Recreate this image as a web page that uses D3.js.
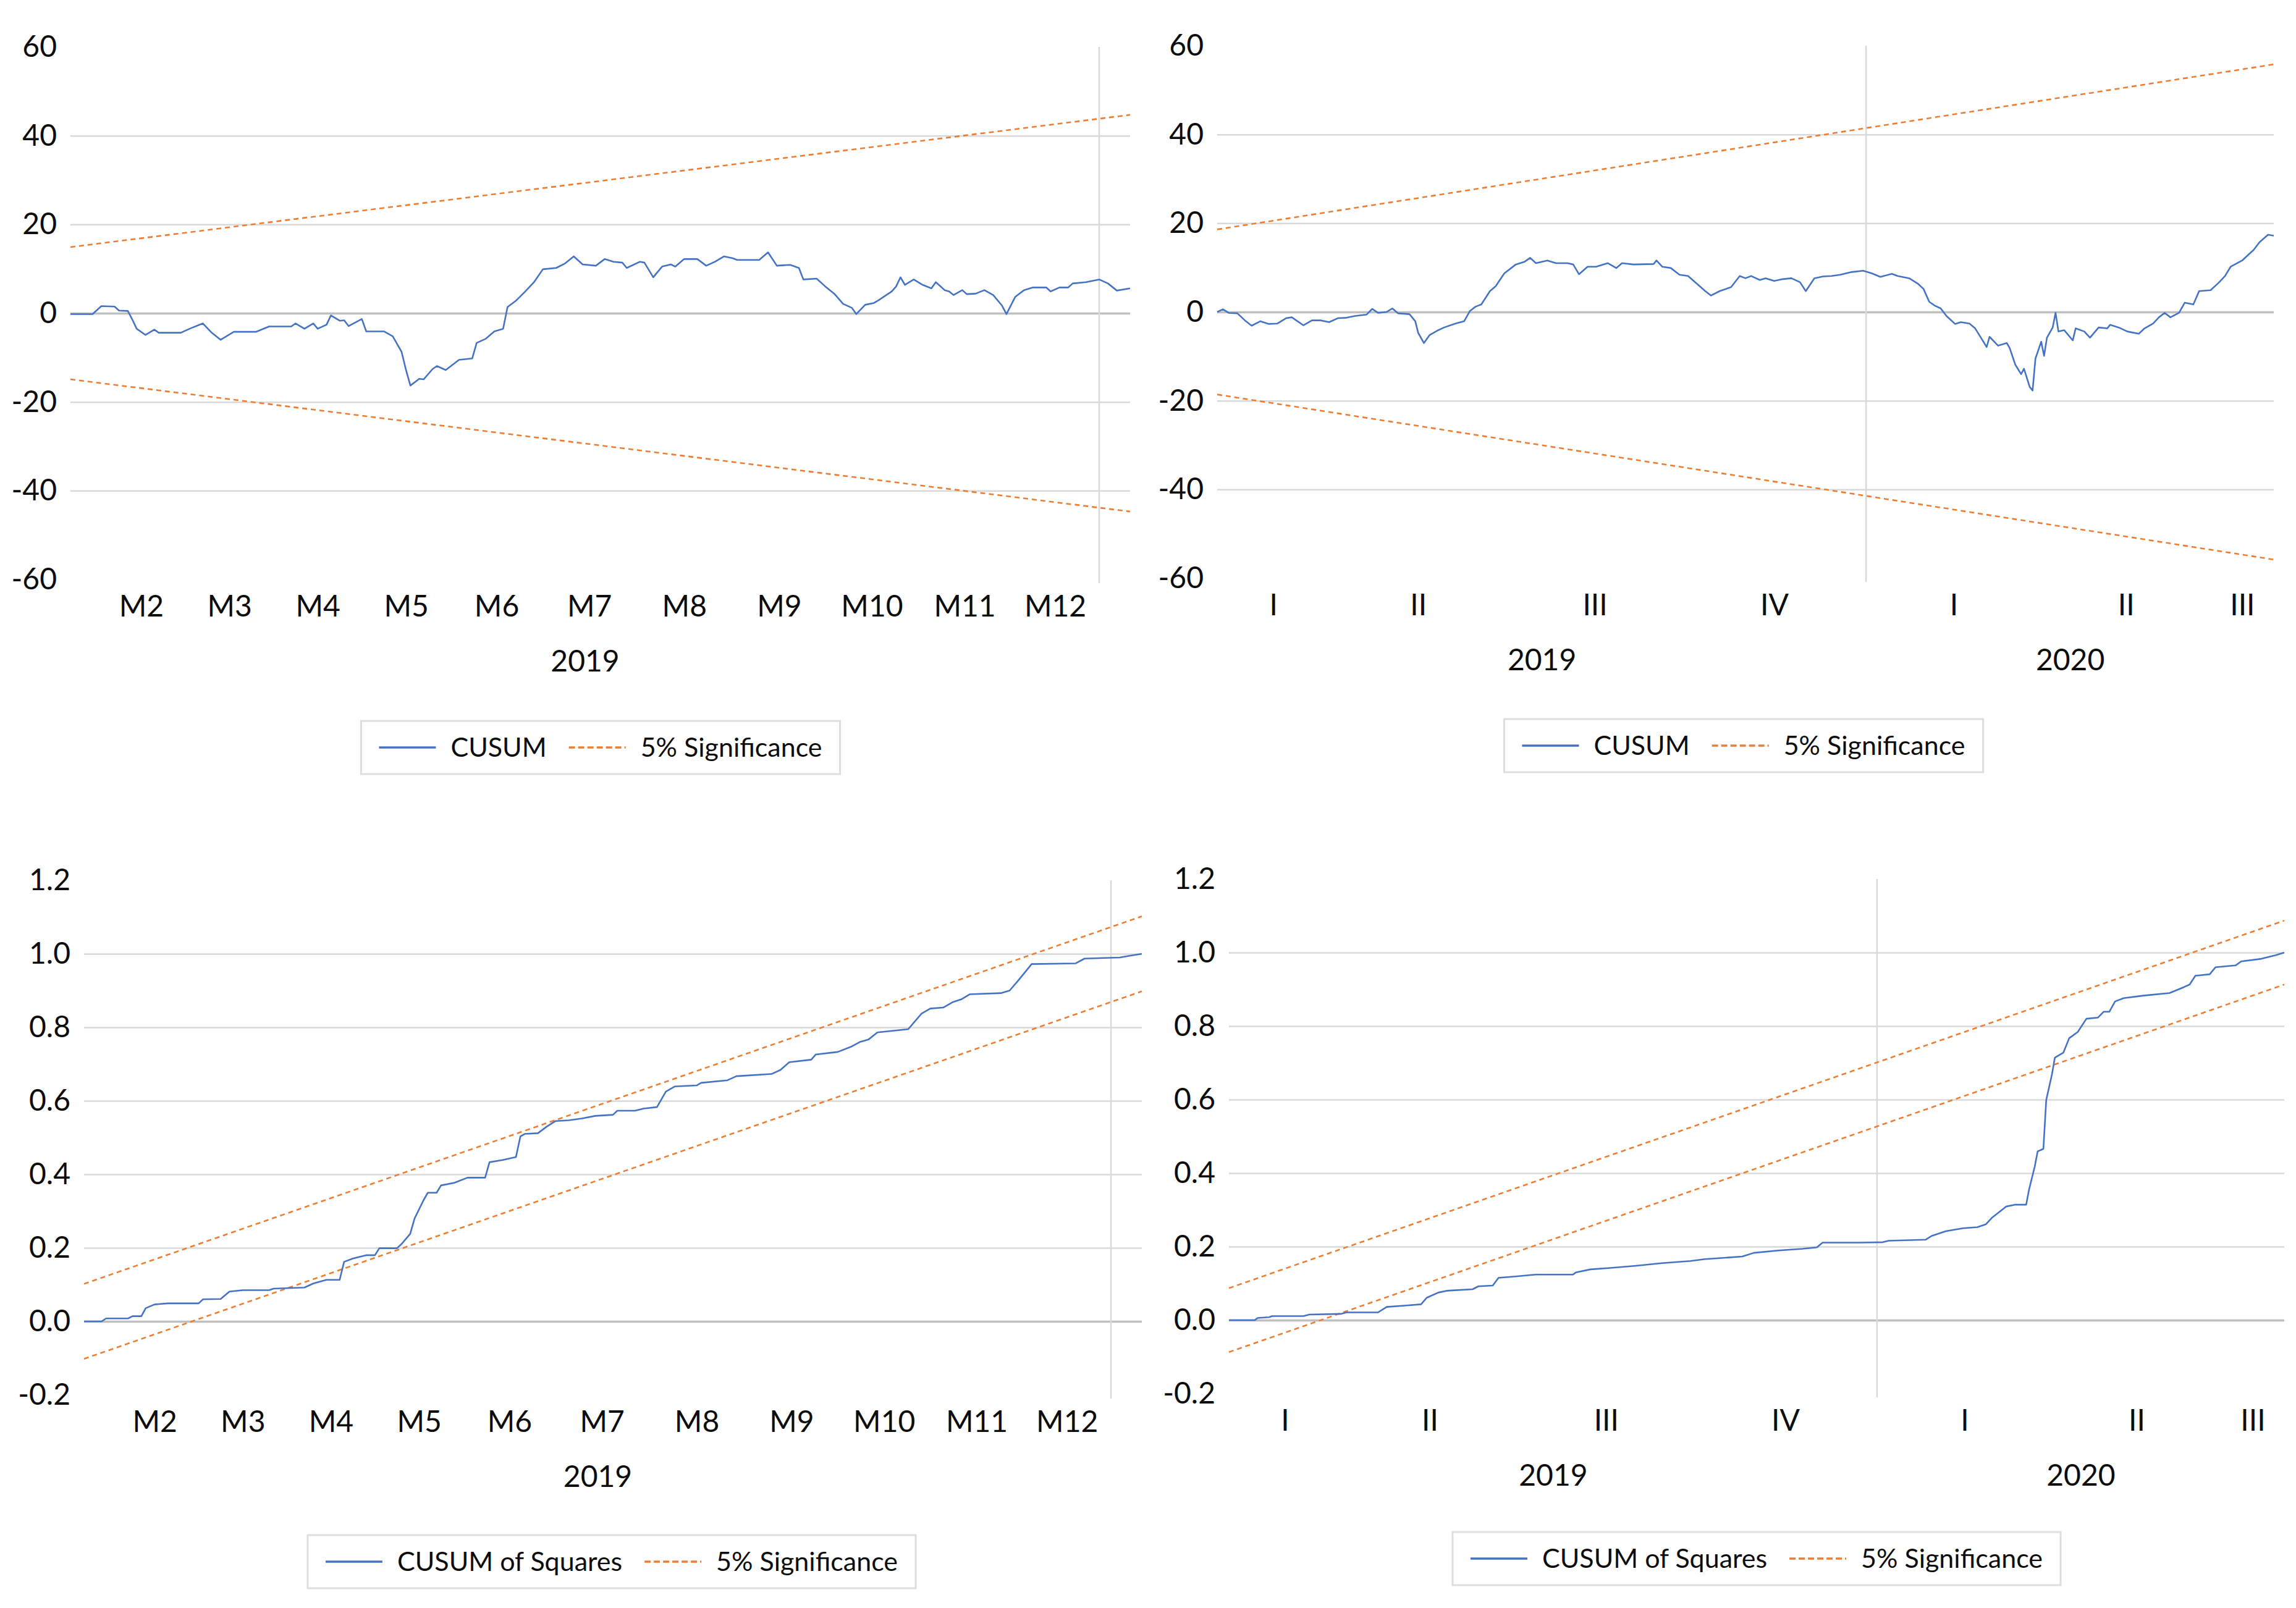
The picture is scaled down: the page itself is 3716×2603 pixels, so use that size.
<!DOCTYPE html>
<html>
<head>
<meta charset="utf-8">
<script src="https://cdn.jsdelivr.net/npm/d3@7"></script>
<style>
body { margin: 0; background: #fff; }
text { font-family: Lato, "Open Sans", sans-serif; fill: #0d0d0d; }
</style>
</head>
<body>
<script>
// category layout (trading-day index of each group's start)
var monthEdges = [0, 6, 26, 46, 66, 86, 107, 128, 150, 171, 192, 213, 233, 240];
var monthLabels = ['', 'M2', 'M3', 'M4', 'M5', 'M6', 'M7', 'M8', 'M9', 'M10', 'M11', 'M12', ''];
var monthYearEdges = [0, 233];
var monthYears = ['2019'];

var quarterEdges = [0, 39, 101, 162, 226, 287, 346, 368];
var quarterLabels = ['I', 'II', 'III', 'IV', 'I', 'II', 'III'];
var quarterYearEdges = [0, 226, 368];
var quarterYears = ['2019', '2020'];

var cusumTicks = [-60, -40, -20, 0, 20, 40, 60];
var sqTicks = [-0.2, 0, 0.2, 0.4, 0.6, 0.8, 1.0, 1.2];

// top left: CUSUM, 2019
var cusumADays = [0,5,7,10,11,13,14,15,17,19,20,25,27,30,32,34,37,42,45,50,51,53,55,56,58,59,61,62,63,66,67,71,73,75,76,77,79,80,82,83,85,88,91,92,94,96,98,99,101,103,105,107,110,112,114,116,119,121,123,125,126,129,130,132,134,136,137,139,142,144,146,148,150,151,156,158,160,163,165,166,169,171,173,175,177,178,180,182,183,186,187,188,189,191,193,195,196,198,199,200,202,203,205,207,209,211,212,214,216,218,221,222,224,226,227,230,233,235,237,240];
var cusumAVals = [-0.2,-0.2,1.6,1.5,0.6,0.5,-1.4,-3.5,-4.9,-3.7,-4.4,-4.4,-3.5,-2.3,-4.4,-6.0,-4.2,-4.2,-3.0,-3.0,-2.3,-3.5,-2.3,-3.5,-2.6,-0.5,-1.7,-1.6,-2.9,-1.3,-4.1,-4.1,-5.2,-8.7,-12.8,-16.3,-14.8,-14.9,-12.6,-11.9,-12.8,-10.5,-10.2,-6.7,-5.8,-4.1,-3.5,1.4,2.9,4.9,7.0,9.9,10.2,11.2,12.8,11.0,10.7,12.2,11.6,11.4,10.2,11.6,11.4,8.1,10.5,11.0,10.5,12.2,12.2,10.7,11.6,12.8,12.4,12.0,12.0,13.7,10.7,10.9,10.2,7.6,7.8,6.0,4.4,2.1,1.2,-0.2,1.9,2.3,2.9,4.9,6.0,8.1,6.4,7.6,6.4,5.6,7.0,5.2,4.9,4.1,5.2,4.3,4.4,5.2,4.1,1.7,-0.2,3.7,5.2,5.8,5.8,4.9,5.8,5.8,6.7,7.0,7.6,6.7,5.1,5.6];
var sigADays = [0, 240];
var sigAUpper = [14.9, 44.7];
var sigALower = [-14.9, -44.7];

// top right: CUSUM, 2019-2020
var cusumBDays = [0,2,4,7,10,12,15,18,21,24,26,28,30,33,36,39,42,45,48,52,54,56,59,61,63,67,69,70,72,74,77,79,83,86,88,90,92,95,97,100,104,107,109,111,115,118,122,124,126,129,132,136,139,141,145,152,153,155,158,161,164,167,170,172,175,179,182,184,186,189,191,194,197,200,203,205,208,211,214,217,221,225,228,231,235,237,241,244,246,248,250,252,254,257,259,262,264,266,268,269,272,275,276,278,280,281,283,284,285,287,288,289,291,292,293,295,298,299,302,304,307,310,311,314,317,321,323,326,328,330,332,335,337,340,342,346,349,351,353,357,359,361,363,366,368];
var cusumBVals = [0,0.6,-0.2,-0.3,-2.1,-3.1,-2.1,-2.7,-2.6,-1.4,-1.2,-2.1,-3.0,-1.9,-1.9,-2.3,-1.4,-1.3,-0.9,-0.6,0.7,-0.2,0,0.8,-0.3,-0.5,-2.1,-4.7,-7.0,-5.2,-4.1,-3.5,-2.6,-2.1,0.2,1.2,1.7,4.7,5.8,8.7,10.7,11.3,12.2,11.0,11.6,11.0,11.0,10.7,8.5,10.2,10.2,11.0,9.9,11.0,10.7,10.8,11.6,10.2,9.9,8.4,8.1,6.4,4.7,3.7,4.7,5.6,8.1,7.6,8.1,7.2,7.6,7.0,7.4,7.6,6.7,4.7,7.6,8.0,8.1,8.4,9.0,9.3,8.7,7.9,8.6,8.1,7.6,6.4,5.2,2.3,1.4,0.8,-0.9,-2.7,-2.3,-2.6,-3.7,-5.8,-7.9,-5.6,-7.6,-7.0,-8.1,-11.9,-14.0,-12.8,-16.9,-17.7,-10.5,-6.7,-9.9,-5.8,-3.5,-0.2,-4.4,-4.1,-6.4,-3.7,-4.4,-5.8,-3.5,-3.7,-2.9,-3.5,-4.4,-4.9,-3.7,-2.6,-1.2,-0.2,-1.2,-0.2,2.1,1.7,4.7,4.9,6.7,8.1,10.2,11.6,12.8,14.0,15.7,17.4,17.2];
var sigBDays = [0, 368];
var sigBUpper = [18.6, 55.8];
var sigBLower = [-18.6, -55.8];

// bottom left: CUSUM of squares, 2019
var sqCDays = [0,4,5,10,11,13,14,16,19,26,27,31,33,36,42,43,50,52,55,58,59,61,64,66,67,71,72,74,75,77,78,80,81,84,87,91,92,95,98,99,100,103,105,107,110,113,116,120,121,125,127,130,132,134,139,140,146,148,156,158,160,165,166,171,174,176,178,180,187,188,190,192,195,197,199,201,208,210,212,215,225,227,235,237,240];
var sqCVals = [0,0,0.008,0.008,0.014,0.014,0.036,0.046,0.049,0.049,0.06,0.061,0.081,0.085,0.085,0.089,0.092,0.103,0.113,0.113,0.162,0.171,0.18,0.18,0.199,0.199,0.21,0.238,0.28,0.329,0.35,0.35,0.37,0.377,0.391,0.391,0.433,0.439,0.447,0.503,0.51,0.512,0.53,0.545,0.547,0.552,0.559,0.562,0.573,0.573,0.579,0.583,0.625,0.639,0.642,0.649,0.656,0.667,0.673,0.684,0.705,0.712,0.726,0.733,0.747,0.76,0.767,0.786,0.795,0.809,0.837,0.851,0.854,0.868,0.876,0.89,0.893,0.9,0.928,0.972,0.974,0.987,0.99,0.994,1.0];
var sigCDays = [0, 240];
var sigCUpper = [0.102, 1.102];
var sigCLower = [-0.102, 0.898];

// bottom right: CUSUM of squares, 2019-2020
var sqDDays = [0,9,10,14,15,26,28,39,41,52,55,62,67,69,73,76,85,87,92,94,100,107,120,121,126,133,142,151,161,166,179,183,191,200,205,207,220,228,230,243,245,250,256,261,264,266,271,274,278,279,281,282,284,285,287,288,291,293,296,299,303,305,307,309,312,319,328,333,335,337,342,344,351,353,360,365,368];
var sqDVals = [0,0,0.006,0.008,0.011,0.011,0.015,0.017,0.021,0.021,0.036,0.04,0.043,0.061,0.075,0.08,0.084,0.092,0.094,0.115,0.119,0.124,0.124,0.13,0.138,0.142,0.148,0.155,0.161,0.166,0.173,0.183,0.189,0.194,0.198,0.211,0.211,0.212,0.216,0.219,0.229,0.242,0.25,0.253,0.261,0.278,0.309,0.314,0.314,0.355,0.418,0.459,0.466,0.599,0.669,0.714,0.728,0.767,0.784,0.82,0.823,0.839,0.839,0.867,0.876,0.883,0.89,0.906,0.913,0.937,0.941,0.96,0.965,0.976,0.983,0.993,1.0];
var sigDDays = [0, 368];
var sigDUpper = [0.087, 1.087];
var sigDLower = [-0.087, 0.913];

var blue = '#4472c4', orange = '#ed7d31';

var svg = d3.select('body').append('svg').attr('width', 3716).attr('height', 2603);

function centers(edges) {
    return edges.slice(0, -1).map(function(e, i) { return (e + edges[i + 1]) / 2; });
}

function styleText(s) {
    s.select('.domain').remove();
    s.selectAll('text').style('font-size', '48px').attr('font-family', null).attr('fill', null);
}

function drawPanel(c) {
    var g = svg.append('g');
    var x = d3.scaleLinear().domain([0, c.edges[c.edges.length - 1]]).range([c.left, c.right]);
    var y = d3.scaleLinear().domain([c.ticks[0], c.ticks[c.ticks.length - 1]]).range([c.bottom, c.top]);

    // gridlines, not at the outer ticks
    var inner = c.ticks.slice(1, -1);
    g.append('g')
        .attr('transform', 'translate(' + c.left + ',0)')
        .call(d3.axisLeft(y).tickValues(inner).tickSize(-(c.right - c.left)).tickFormat(''))
        .call(function(s) {
            s.select('.domain').remove();
            s.selectAll('line')
                .attr('stroke', function(d) { return d === 0 ? '#bfbfbf' : '#d9d9d9'; })
                .attr('stroke-width', function(d) { return d === 0 ? 3.5 : 2.5; });
        });

    // year divider
    g.append('line')
        .attr('x1', x(c.divider)).attr('x2', x(c.divider))
        .attr('y1', c.top).attr('y2', c.bottom + 6)
        .attr('stroke', '#d9d9d9').attr('stroke-width', 2.5);

    // y labels
    g.append('g')
        .attr('transform', 'translate(' + c.left + ',0)')
        .call(d3.axisLeft(y).tickValues(c.ticks).tickSize(0).tickPadding(22).tickFormat(c.fmt))
        .call(styleText);

    // category labels
    var cc = centers(c.edges);
    var keep = cc.filter(function(d, i) { return c.labels[i] !== ''; });
    var keepLab = c.labels.filter(function(d) { return d !== ''; });
    g.append('g')
        .attr('transform', 'translate(0,' + c.bottom + ')')
        .call(d3.axisBottom(x).tickValues(keep).tickSize(0).tickPadding(26)
            .tickFormat(function(d, i) { return keepLab[i]; }))
        .call(styleText);

    // year labels
    var yc = centers(c.yearEdges);
    g.append('g')
        .attr('transform', 'translate(0,' + c.bottom + ')')
        .call(d3.axisBottom(x).tickValues(yc).tickSize(0).tickPadding(115)
            .tickFormat(function(d, i) { return c.years[i]; }))
        .call(styleText);

    // significance bands
    [c.sigUp, c.sigLo].forEach(function(vals) {
        var line = d3.line()
            .x(function(d, i) { return x(c.sigDays[i]); })
            .y(function(d) { return y(d); });
        g.append('path').attr('d', line(vals))
            .attr('fill', 'none').attr('stroke', orange)
            .attr('stroke-width', 2.6).attr('stroke-dasharray', '8,6');
    });

    // main series
    var main = d3.line()
        .x(function(d, i) { return x(c.days[i]); })
        .y(function(d) { return y(d); });
    g.append('path').attr('d', main(c.vals))
        .attr('fill', 'none').attr('stroke', blue)
        .attr('stroke-width', 2.6).attr('stroke-linejoin', 'round');

    drawLegend(c.legX, c.legY, [
        { label: c.name, color: blue },
        { label: '5% Significance', color: orange, dash: '10,5' }
    ]);
}

function drawLegend(cx, cy, items) {
    var g = svg.append('g');
    var box = g.append('rect');
    var cur = 29;
    items.forEach(function(it) {
        g.append('line')
            .attr('x1', cur).attr('x2', cur + 92).attr('y1', 0).attr('y2', 0)
            .attr('stroke', it.color).attr('stroke-width', 3.5)
            .attr('stroke-dasharray', it.dash || null);
        var t = g.append('text')
            .attr('x', cur + 92 + 24).attr('y', 0).attr('dy', '0.35em')
            .style('font-size', '43px').text(it.label);
        cur = cur + 92 + 24 + t.node().getComputedTextLength() + 36;
    });
    var w = cur - 36 + 29;
    box.attr('x', 0).attr('y', -43).attr('width', w).attr('height', 86)
        .attr('fill', '#fff').attr('stroke', '#dedede').attr('stroke-width', 3);
    g.attr('transform', 'translate(' + (cx - w / 2) + ',' + cy + ')');
}

var intFmt = function(d) { return String(d); };
var decFmt = function(d) { return d.toFixed(1); };

drawPanel({ left: 114, right: 1829, top: 76, bottom: 938, ticks: cusumTicks, fmt: intFmt,
    edges: monthEdges, labels: monthLabels, yearEdges: monthYearEdges, years: monthYears, divider: 233,
    days: cusumADays, vals: cusumAVals, sigDays: sigADays, sigUp: sigAUpper, sigLo: sigALower,
    name: 'CUSUM', legX: 972, legY: 1210 });

drawPanel({ left: 1970, right: 3680, top: 74, bottom: 936, ticks: cusumTicks, fmt: intFmt,
    edges: quarterEdges, labels: quarterLabels, yearEdges: quarterYearEdges, years: quarterYears, divider: 226,
    days: cusumBDays, vals: cusumBVals, sigDays: sigBDays, sigUp: sigBUpper, sigLo: sigBLower,
    name: 'CUSUM', legX: 2822, legY: 1207 });

drawPanel({ left: 136, right: 1848, top: 1425, bottom: 2258, ticks: sqTicks, fmt: decFmt,
    edges: monthEdges, labels: monthLabels, yearEdges: monthYearEdges, years: monthYears, divider: 233,
    days: sqCDays, vals: sqCVals, sigDays: sigCDays, sigUp: sigCUpper, sigLo: sigCLower,
    name: 'CUSUM of Squares', legX: 990, legY: 2528 });

drawPanel({ left: 1989, right: 3697, top: 1423, bottom: 2256, ticks: sqTicks, fmt: decFmt,
    edges: quarterEdges, labels: quarterLabels, yearEdges: quarterYearEdges, years: quarterYears, divider: 226,
    days: sqDDays, vals: sqDVals, sigDays: sigDDays, sigUp: sigDUpper, sigLo: sigDLower,
    name: 'CUSUM of Squares', legX: 2843, legY: 2523 });
</script>
</body>
</html>
